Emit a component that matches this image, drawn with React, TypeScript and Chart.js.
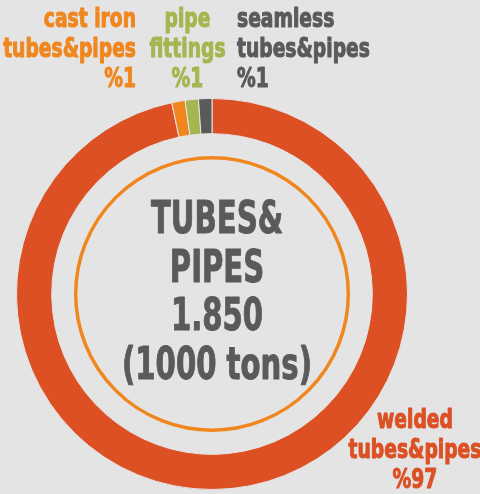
import React, { useEffect, useRef } from "react";
import { Chart, registerables } from "chart.js";

Chart.register(...registerables);

// ---- data ----
const categories = ["welded tubes&pipes", "cast iron tubes&pipes", "pipe fittings", "seamless tubes&pipes"];
const shares = [96.7, 1.1, 1.1, 1.1];
const shareLabels = ["%97", "%1", "%1", "%1"];
const labelLines = [
  ["welded", "tubes&pipes"],
  ["cast iron", "tubes&pipes"],
  ["pipe", "fittings"],
  ["seamless", "tubes&pipes"],
];
const sliceColors = ["#dc5024", "#f0861e", "#a5b550", "#5a5a5a"];
const centerLines = ["TUBES&", "PIPES", "1.850", "(1000 tons)"];

// ---- styling ----
const BG = "#e4e4e4";
const FONT = '"DejaVu Sans Condensed", "Liberation Sans Narrow", "Liberation Sans", sans-serif';
// label anchor offsets relative to the doughnut center (styling only)
const labelAnchors = [
  { dx: 203, dy: 134, align: "center" as CanvasTextAlign },
  { dx: -76, dy: -267, align: "right" as CanvasTextAlign },
  { dx: -24.5, dy: -267, align: "center" as CanvasTextAlign },
  { dx: 25, dy: -267, align: "left" as CanvasTextAlign },
];

function drawText(
  ctx: CanvasRenderingContext2D,
  text: string,
  x: number,
  y: number,
  align: CanvasTextAlign,
  size: number,
  color: string,
  squeeze = 1
) {
  ctx.save();
  ctx.translate(x, y);
  ctx.scale(squeeze, 1);
  ctx.font = `bold ${size}px ${FONT}`;
  ctx.fillStyle = color;
  ctx.strokeStyle = color;
  ctx.lineWidth = 1;
  ctx.lineJoin = "round";
  ctx.textAlign = align;
  ctx.textBaseline = "alphabetic";
  ctx.fillText(text, 0, 0);
  ctx.strokeText(text, 0, 0);
  ctx.restore();
}

const overlayPlugin = {
  id: "overlay",
  afterDatasetsDraw(chart: any) {
    const ctx: CanvasRenderingContext2D = chart.ctx;
    const meta = chart.getDatasetMeta(0);
    const arc = meta.data[0];
    if (!arc) return;
    const cx = arc.x;
    const cy = arc.y;
    const inner = arc.innerRadius;

    // thin orange circle inside the ring
    ctx.save();
    ctx.beginPath();
    ctx.arc(cx, cy, inner - 24, 0, Math.PI * 2);
    ctx.strokeStyle = "#f0861e";
    ctx.lineWidth = 3.5;
    ctx.stroke();
    ctx.restore();

    // center text
    const baseOffsets = [-61, -12, 36, 85];
    centerLines.forEach((t, i) => {
      drawText(ctx, t, cx + 5, cy + baseOffsets[i], "center", 45, "#5a5a5a", 0.72);
    });

    // slice labels
    categories.forEach((_, i) => {
      const a = labelAnchors[i];
      const lines = [...labelLines[i], shareLabels[i]];
      lines.forEach((t, j) => {
        drawText(ctx, t, cx + a.dx, cy + a.dy + j * 30, a.align, 26, sliceColors[i], 0.8);
      });
    });
  },
};

export default function App() {
  const ref = useRef<HTMLCanvasElement | null>(null);
  useEffect(() => {
    if (!ref.current) return;
    const chart = new Chart(ref.current, {
      type: "doughnut",
      data: {
        labels: categories,
        datasets: [
          {
            data: shares,
            backgroundColor: sliceColors,
            borderColor: BG,
            borderWidth: 1,
          },
        ],
      },
      options: {
        responsive: false,
        animation: false,
        cutout: "82%",
        rotation: 0,
        layout: { padding: { left: 16, right: 72, top: 97, bottom: 3 } },
        plugins: {
          legend: { display: false },
          tooltip: { enabled: false },
        },
      },
      plugins: [overlayPlugin],
    });
    return () => chart.destroy();
  }, []);

  return (
    <div style={{ position: "fixed", left: 0, top: 0, width: 480, height: 494, background: BG }}>
      <canvas ref={ref} width={480} height={494} style={{ display: "block" }} />
    </div>
  );
}
